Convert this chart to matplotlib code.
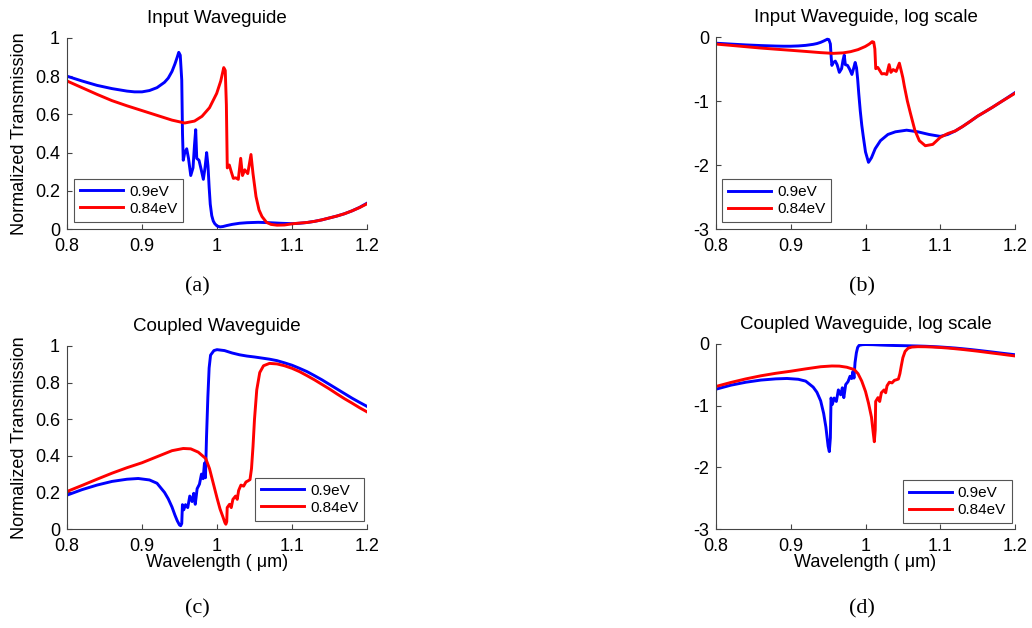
import numpy as np
import matplotlib
matplotlib.use("Agg")
import matplotlib.pyplot as plt

plt.rcParams['font.family'] = ['Liberation Sans', 'DejaVu Sans']

# ---------------- data ----------------
series_labels = ['0.9eV', '0.84eV']
xticks = [0.8, 0.9, 1.0, 1.1, 1.2]
xtick_labels = ['0.8', '0.9', '1', '1.1', '1.2']
yticks_lin = [0, 0.2, 0.4, 0.6, 0.8, 1.0]
ytick_lin_labels = ['0', '0.2', '0.4', '0.6', '0.8', '1']
yticks_log = [-3, -2, -1, 0]
ytick_log_labels = ['-3', '-2', '-1', '0']
titles = ['Input Waveguide', 'Input Waveguide, log scale',
          'Coupled Waveguide', 'Coupled Waveguide, log scale']
panel_letters = ['(a)', '(b)', '(c)', '(d)']

# Input waveguide, 0.9 eV
wl_in_09 = [0.80, 0.82, 0.84, 0.86, 0.88, 0.89, 0.90, 0.91, 0.92, 0.93, 0.935, 0.940,
            0.944, 0.947, 0.949, 0.951, 0.953, 0.954, 0.955, 0.957, 0.9596, 0.962,
            0.965, 0.968, 0.970, 0.9716, 0.973, 0.976, 0.979, 0.9818, 0.984, 0.9862,
            0.988, 0.9895, 0.991, 0.993, 0.995, 0.997, 1.000, 1.004, 1.008, 1.013,
            1.020, 1.030, 1.040, 1.055, 1.070, 1.085, 1.100, 1.110, 1.120, 1.130,
            1.140, 1.150, 1.160, 1.170, 1.180, 1.190, 1.200]
T_in_09 = [0.800, 0.775, 0.752, 0.735, 0.722, 0.718, 0.718, 0.725, 0.740, 0.768, 0.790, 0.825,
           0.865, 0.900, 0.925, 0.910, 0.780, 0.500, 0.360, 0.400, 0.420, 0.370,
           0.280, 0.320, 0.440, 0.520, 0.370, 0.360, 0.310, 0.260, 0.320, 0.400,
           0.330, 0.220, 0.130, 0.070, 0.042, 0.028, 0.016, 0.011, 0.013, 0.018,
           0.024, 0.030, 0.033, 0.035, 0.033, 0.030, 0.028, 0.030, 0.034, 0.040,
           0.048, 0.058, 0.068, 0.080, 0.095, 0.113, 0.135]

# Input waveguide, 0.84 eV
wl_in_084 = [0.80, 0.82, 0.84, 0.86, 0.88, 0.90, 0.92, 0.94, 0.957, 0.97, 0.98, 0.99,
             0.9996, 1.005, 1.009, 1.011, 1.0125, 1.0137, 1.0164, 1.019, 1.0218, 1.025,
             1.0284, 1.0316, 1.034, 1.037, 1.041, 1.0453, 1.048, 1.050, 1.052, 1.056,
             1.060, 1.066, 1.072, 1.080, 1.090, 1.100, 1.110, 1.120, 1.130, 1.140,
             1.150, 1.160, 1.170, 1.180, 1.190, 1.200]
T_in_084 = [0.775, 0.740, 0.705, 0.672, 0.645, 0.620, 0.595, 0.570, 0.555, 0.565, 0.590, 0.635,
            0.710, 0.775, 0.845, 0.830, 0.650, 0.320, 0.335, 0.300, 0.265, 0.268,
            0.260, 0.370, 0.280, 0.310, 0.290, 0.390, 0.290, 0.230, 0.170, 0.100,
            0.065, 0.035, 0.024, 0.020, 0.021, 0.027, 0.031, 0.034, 0.040, 0.048,
            0.058, 0.068, 0.080, 0.095, 0.112, 0.132]

# Coupled waveguide, 0.9 eV
wl_cp_09 = [0.80, 0.82, 0.84, 0.86, 0.88, 0.895, 0.91, 0.92, 0.93, 0.935, 0.940, 0.944,
            0.947, 0.950, 0.9516, 0.953, 0.9539, 0.9557, 0.958, 0.961, 0.9637, 0.9668,
            0.969, 0.971, 0.9735, 0.9766, 0.9793, 0.9815, 0.9833, 0.9846, 0.986, 0.9878,
            0.9895, 0.9914, 0.9959, 1.000, 1.010, 1.020, 1.030, 1.040, 1.050, 1.060,
            1.070, 1.080, 1.090, 1.100, 1.110, 1.120, 1.130, 1.140, 1.150, 1.160,
            1.170, 1.180, 1.190, 1.200]
T_cp_09 = [0.185, 0.215, 0.240, 0.260, 0.272, 0.276, 0.268, 0.250, 0.200, 0.165, 0.120, 0.075,
           0.045, 0.022, 0.018, 0.030, 0.133, 0.105, 0.133, 0.117, 0.180, 0.150,
           0.195, 0.135, 0.220, 0.245, 0.300, 0.275, 0.360, 0.280, 0.500, 0.720,
           0.880, 0.950, 0.975, 0.980, 0.975, 0.962, 0.952, 0.945, 0.940, 0.934,
           0.928, 0.920, 0.908, 0.895, 0.878, 0.860, 0.838, 0.815, 0.790, 0.765,
           0.740, 0.715, 0.692, 0.670]

# Coupled waveguide, 0.84 eV
wl_cp_084 = [0.80, 0.82, 0.84, 0.86, 0.88, 0.90, 0.92, 0.94, 0.955, 0.965, 0.975, 0.985,
             0.990, 0.995, 1.000, 1.004, 1.008, 1.0105, 1.0118, 1.013, 1.0136, 1.0167,
             1.019, 1.0212, 1.0248, 1.027, 1.0288, 1.0319, 1.0355, 1.0386, 1.0413, 1.044,
             1.046, 1.048, 1.050, 1.053, 1.057, 1.062, 1.070, 1.080, 1.090, 1.100,
             1.110, 1.120, 1.130, 1.140, 1.150, 1.160, 1.170, 1.180, 1.190, 1.200]
T_cp_084 = [0.205, 0.238, 0.272, 0.305, 0.335, 0.362, 0.395, 0.428, 0.440, 0.438, 0.420, 0.385,
            0.330, 0.250, 0.170, 0.110, 0.065, 0.035, 0.026, 0.040, 0.117, 0.135,
            0.117, 0.162, 0.180, 0.162, 0.210, 0.240, 0.234, 0.257, 0.263, 0.270,
            0.330, 0.450, 0.600, 0.760, 0.855, 0.892, 0.905, 0.902, 0.892, 0.878,
            0.860, 0.838, 0.815, 0.790, 0.765, 0.738, 0.712, 0.688, 0.663, 0.640]

colors = ['#0000ff', '#ff0000']

# ---------------- figure ----------------
W, H = 1032, 628
fig = plt.figure(figsize=(W / 100, H / 100), dpi=100)


def px_axes(l, t, r, b):
    return [l / W, 1 - b / H, (r - l) / W, (b - t) / H]


ax_a = fig.add_axes(px_axes(67, 38, 367, 229))
ax_b = fig.add_axes(px_axes(716, 37, 1015, 229))
ax_c = fig.add_axes(px_axes(67, 346, 367, 529))
ax_d = fig.add_axes(px_axes(716, 344, 1015, 529))

panels = [
    (ax_a, (wl_in_09, T_in_09), (wl_in_084, T_in_084), False, (0.023, 0.037)),
    (ax_b, (wl_in_09, T_in_09), (wl_in_084, T_in_084), True, (0.020, 0.036)),
    (ax_c, (wl_cp_09, T_cp_09), (wl_cp_084, T_cp_084), False, (0.627, 0.044)),
    (ax_d, (wl_cp_09, T_cp_09), (wl_cp_084, T_cp_084), True, (0.625, 0.032)),
]

for i, (ax, s1, s2, logy, legpos) in enumerate(panels):
    for (wl, T), c, lab in zip([s1, s2], colors, series_labels):
        y = np.log10(np.array(T)) if logy else np.array(T)
        ax.plot(wl, y, color=c, lw=2.1, label=lab, solid_joinstyle='round')
    ax.set_xlim(0.8, 1.2)
    ax.set_xticks(xticks)
    ax.set_xticklabels(xtick_labels)
    if logy:
        ax.set_ylim(-3, 0)
        ax.set_yticks(yticks_log)
        ax.set_yticklabels(ytick_log_labels)
    else:
        ax.set_ylim(0, 1)
        ax.set_yticks(yticks_lin)
        ax.set_yticklabels(ytick_lin_labels)
    for sp in ['top', 'right']:
        ax.spines[sp].set_visible(False)
    for sp in ['left', 'bottom']:
        ax.spines[sp].set_color('#444444')
        ax.spines[sp].set_linewidth(0.8)
    ax.tick_params(direction='in', length=3.5, width=0.8, color='#444444',
                   labelsize=13)
    ax.tick_params(axis='x', pad=6.5)
    ax.tick_params(axis='y', pad=5)
    ax.set_title(titles[i], fontsize=13.5, pad=11)
    leg = ax.legend(loc='lower left', bbox_to_anchor=legpos, borderaxespad=0,
                    fontsize=11, fancybox=False, framealpha=1, edgecolor='#555555',
                    handlelength=2.8, handletextpad=0.4, labelspacing=0.2,
                    borderpad=0.4)
    leg.get_frame().set_linewidth(0.8)

for ax in (ax_a, ax_c):
    ax.set_ylabel('Normalized Transmission', fontsize=13, labelpad=5)
for ax in (ax_c, ax_d):
    ax.set_xlabel('Wavelength ( μm)', fontsize=13, labelpad=-1)

letter_pos = [(197, 287), (862, 287), (197, 609), (862, 609)]
for (x, y), txt in zip(letter_pos, panel_letters):
    fig.text(x / W, 1 - y / H, txt, ha='center', va='center', fontsize=16,
             family='Liberation Serif')

fig.savefig('out.png', dpi=100, facecolor='white')
